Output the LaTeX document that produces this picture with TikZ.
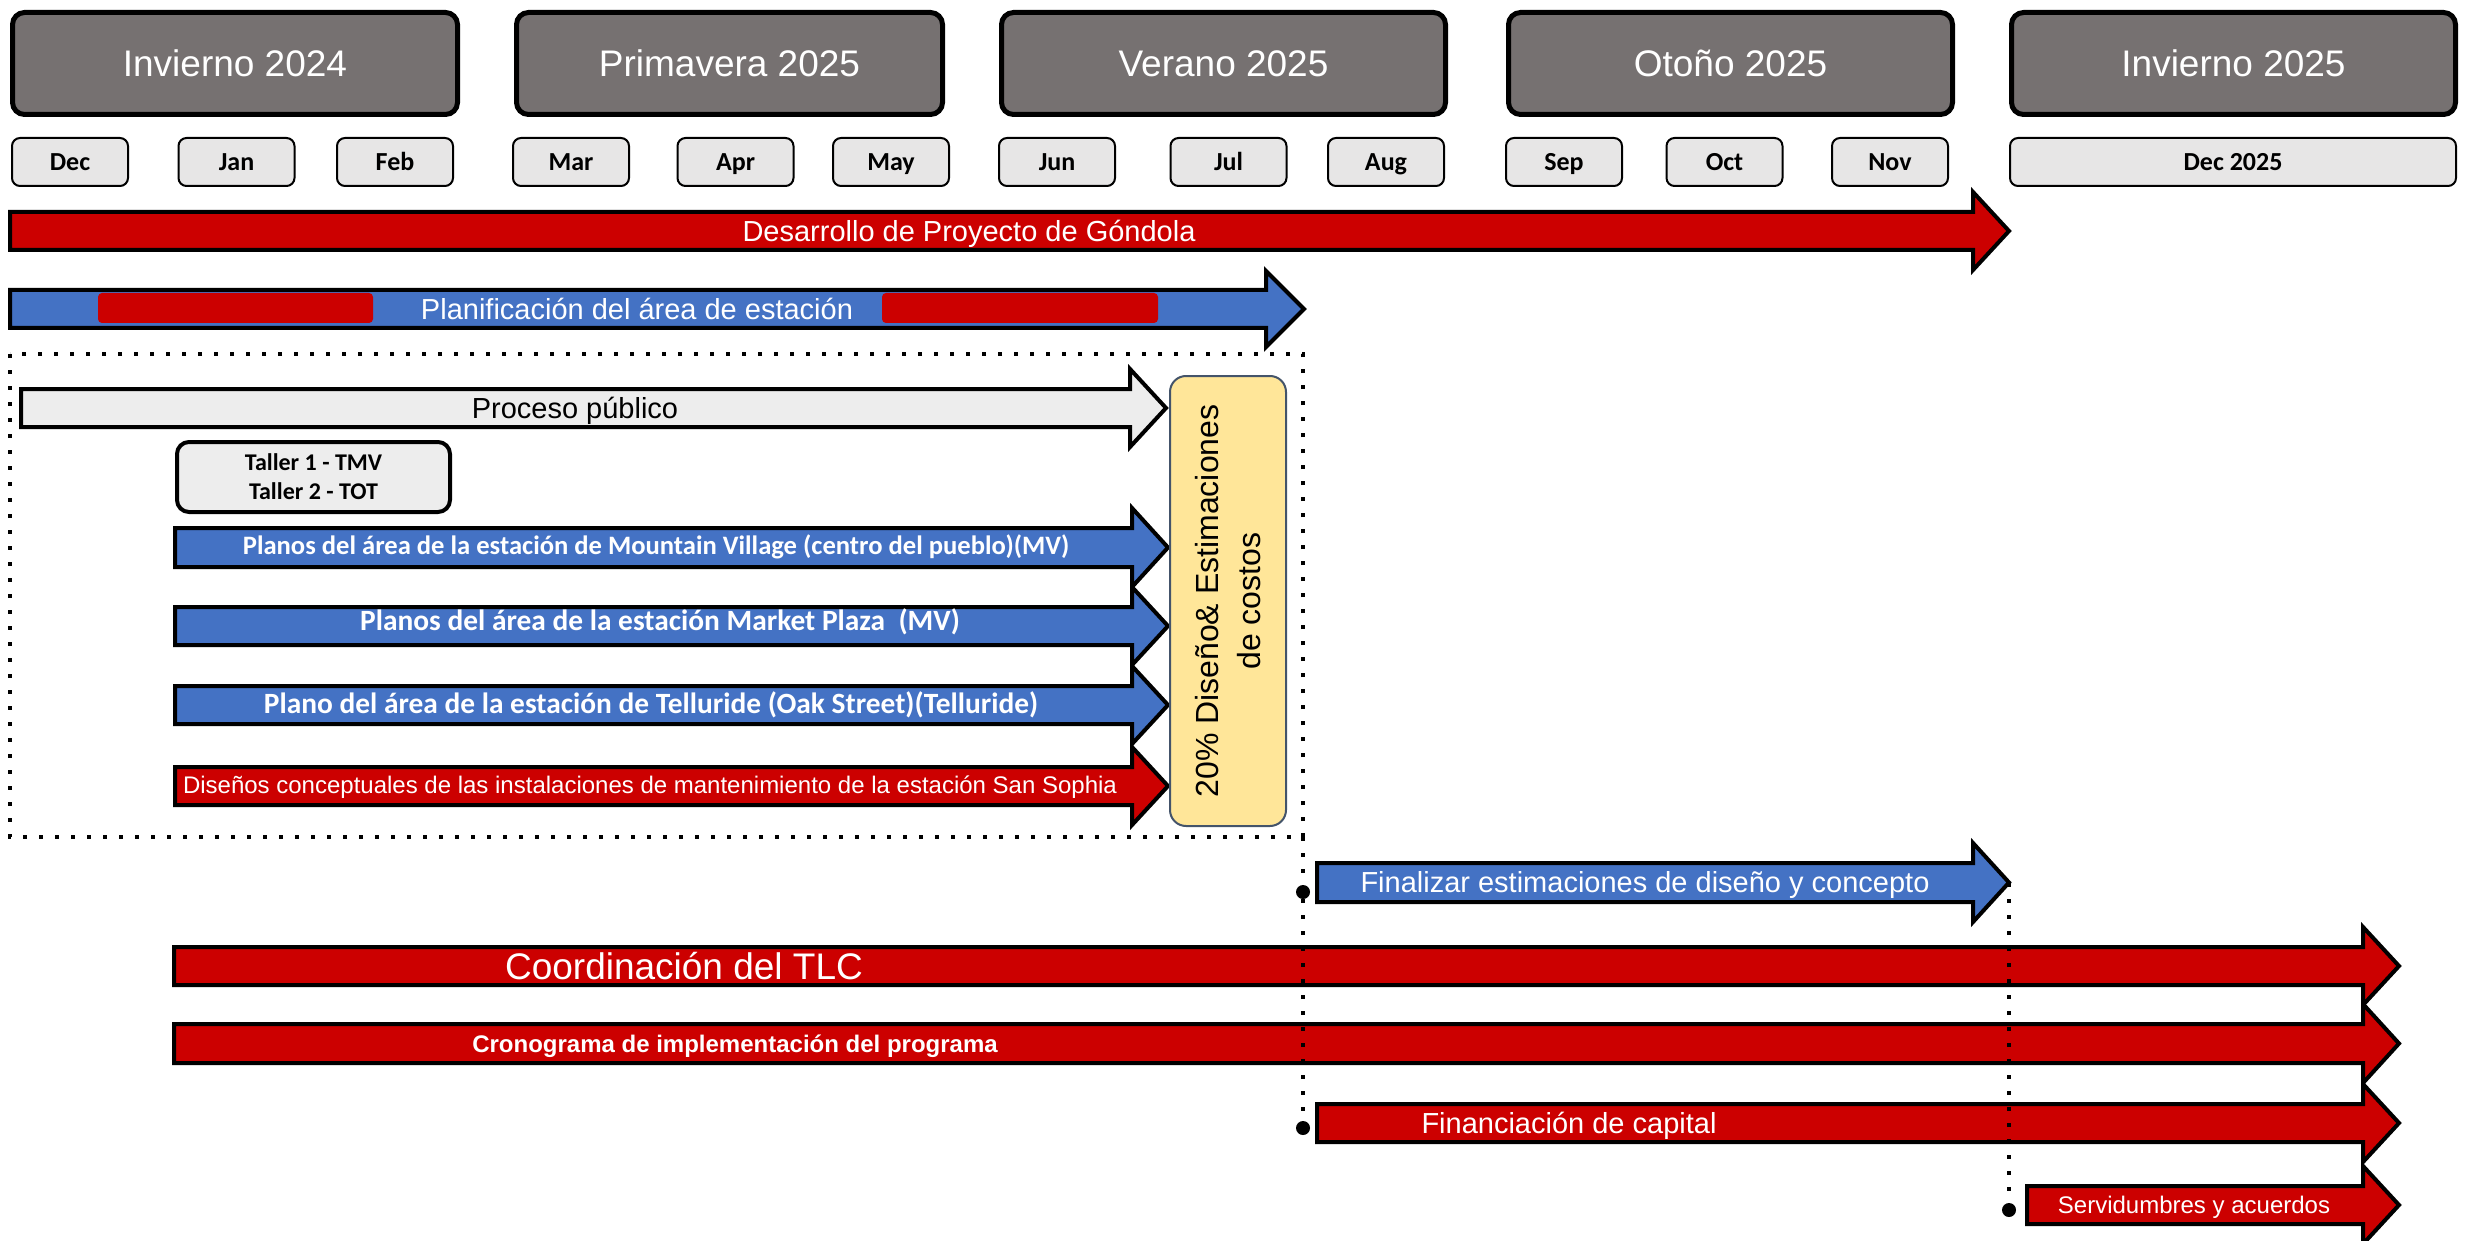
\documentclass[tikz,border=0pt]{standalone}
\usepackage{fontspec}
\setmainfont{Liberation Sans}
\newfontfamily\calibri{Carlito}
\usepackage{xcolor}
\usetikzlibrary{positioning, calc}

\definecolor{tlred}{HTML}{CC0000}
\definecolor{tlblue}{HTML}{4472C4}
\definecolor{seasongray}{HTML}{767171}
\definecolor{monthgray}{HTML}{E7E6E6}
\definecolor{procgray}{HTML}{EDEDED}
\definecolor{costyellow}{HTML}{FFE699}
\definecolor{costedge}{HTML}{44546A}

\newcommand{\tlarrow}[7]{%
  \draw[#1] (#2,#5) -- (#3,#5) -- (#3,#5-#7) -- (#4,{(#5+#6)/2}) -- (#3,#6+#7) -- (#3,#6) -- (#2,#6) -- cycle;}

\begin{document}
\begin{tikzpicture}[x=0.5pt, y=-0.5pt,
  season/.style={draw, line width=2.5pt, fill=seasongray, rounded corners=6pt, minimum height=51pt, text=white, font=\fontsize{18.5}{22}\selectfont},
  month/.style={draw, line width=1pt, fill=monthgray, rounded corners=4pt, minimum width=58pt, minimum height=24pt, text height=8.4pt, text depth=0pt, font=\calibri\bfseries\fontsize{13}{15}\selectfont},
  redbar/.style={draw, line width=2pt, fill=tlred},
  bluebar/.style={draw, line width=2pt, fill=tlblue},
  graybar/.style={draw, line width=2pt, fill=procgray},
  bartext/.style={text=white, inner sep=0pt, text height=10.4pt, text depth=0pt, font=\fontsize{14.5}{17}\selectfont},
  smalltext/.style={text=white, inner sep=0pt, text height=8.6pt, text depth=0pt, font=\fontsize{12}{14}\selectfont},
  stationtext/.style={text=white, inner sep=0pt, text height=9.5pt, text depth=0pt, font=\calibri\bfseries\fontsize{14.7}{17}\selectfont},
  dotbox/.style={line width=2pt, dash pattern=on 2pt off 6pt},
  dotmark/.style={circle, fill=black, inner sep=0pt, minimum size=7pt}]
\useasboundingbox (0,0) rectangle (2469,1241);

% Seasons
\node[season, minimum width=222.5pt] (win24) at (235,63.5) {Invierno 2024};
\node[season, minimum width=213pt] (spr25) at (729.5,63.5) {Primavera 2025};
\node[season, minimum width=222pt] (sum25) at (1223.5,63.5) {Verano 2025};
\node[season, minimum width=222pt] (aut25) at (1730.5,63.5) {Otoño 2025};
\node[season, minimum width=222pt] (win25) at (2233.5,63.5) {Invierno 2025};

% Months
\node[month] (dec24) at (70,162) {Dec};
\node[month] (jan) at (236.5,162) {Jan};
\node[month] (feb) at (395,162) {Feb};
\node[month] (mar) at (571,162) {Mar};
\node[month] (apr) at (735.5,162) {Apr};
\node[month] (may) at (891,162) {May};
\node[month] (jun) at (1057,162) {Jun};
\node[month] (jul) at (1228.5,162) {Jul};
\node[month] (aug) at (1386,162) {Aug};
\node[month] (sep) at (1564,162) {Sep};
\node[month] (oct) at (1724.5,162) {Oct};
\node[month] (nov) at (1890,162) {Nov};
\node[month, minimum width=223pt] (dec25) at (2233,162) {Dec 2025};

% Bars
\tlarrow{redbar}{10}{1973}{2009}{212}{250}{20}
\tlarrow{bluebar}{10}{1266}{1304}{290}{328}{19}
\fill[tlred, rounded corners=2pt] (98,293) rectangle (373,323);
\fill[tlred, rounded corners=2pt] (882,293) rectangle (1158,323);
\tlarrow{graybar}{21}{1130}{1166}{389}{427}{20}
\tlarrow{bluebar}{175}{1132}{1168}{528}{567}{20}
\tlarrow{bluebar}{175}{1132}{1168}{607}{645}{20}
\tlarrow{bluebar}{175}{1132}{1168}{686}{724}{20}
\tlarrow{redbar}{175}{1132}{1168}{767}{805}{20}
\tlarrow{bluebar}{1317}{1973}{2009}{863}{902}{20}
\tlarrow{redbar}{174}{2363}{2399}{947}{985}{20}
\tlarrow{redbar}{174}{2363}{2399}{1024}{1063}{20}
\tlarrow{redbar}{1317}{2363}{2399}{1104}{1142}{20}
\tlarrow{redbar}{2027}{2363}{2399}{1186}{1224}{20}

% Labels
\node[bartext] (gondola) at (969,231) {Desarrollo de Proyecto de Góndola};
\node[bartext] (planning) at (637,309) {Planificación del área de estación};
\node[bartext, text=black] (public) at (575,408) {Proceso público};
\node[draw, line width=2pt, fill=procgray, rounded corners=6pt, minimum width=136.5pt, minimum height=35pt, align=center, font=\calibri\bfseries\fontsize{12}{14.5}\selectfont] (workshops) at (313.5,477) {Taller 1 - TMV\\Taller 2 - TOT};
\node[stationtext, text height=8.6pt, font=\calibri\bfseries\fontsize{13.3}{16}\selectfont] (mvplan) at (656,546) {Planos del área de la estación de Mountain Village (centro del pueblo)(MV)};
\node[stationtext] (marketplan) at (660,621) {Planos del área de la estación Market Plaza\ \ (MV)};
\node[stationtext] (tellplan) at (651,704) {Plano del área de la estación de Telluride (Oak Street)(Telluride)};
\node[smalltext] (sophia) at (650,785) {Diseños conceptuales de las instalaciones de mantenimiento de la estación San Sophia};
\node[draw=costedge, line width=1pt, fill=costyellow, rounded corners=8pt, rotate=90, minimum width=225pt, minimum height=58pt, align=center, font=\fontsize{16}{21}\selectfont] (costs) at (1228,601) {20\% Diseño\& Estimaciones\\de costos};
\node[bartext] (finalize) at (1645,882.5) {Finalizar estimaciones de diseño y concepto};
\node[bartext, text height=13.2pt, font=\fontsize{18.5}{22}\selectfont] (tlc) at (684,966) {Coordinación del TLC};
\node[smalltext, font=\bfseries\fontsize{12}{14}\selectfont] (schedule) at (735,1043.5) {Cronograma de implementación del programa};
\node[bartext] (capital) at (1569,1123) {Financiación de capital};
\node[smalltext] (easements) at (2194,1205) {Servidumbres y acuerdos};

% Dotted frame and milestones
\draw[dotbox] (10,354) rectangle (1303,837);
\coordinate (boxcorner) at (1303,837);
\coordinate (fintip) at (2009,883);
\node[dotmark] (finstart) at (1303,892) {};
\node[dotmark] (capstart) at (1303,1128) {};
\node[dotmark] (easestart) at (2009,1210) {};
\draw[dotbox] (boxcorner) -- (finstart) -- (capstart);
\draw[dotbox] (fintip) -- (easestart);
\end{tikzpicture}
\end{document}
